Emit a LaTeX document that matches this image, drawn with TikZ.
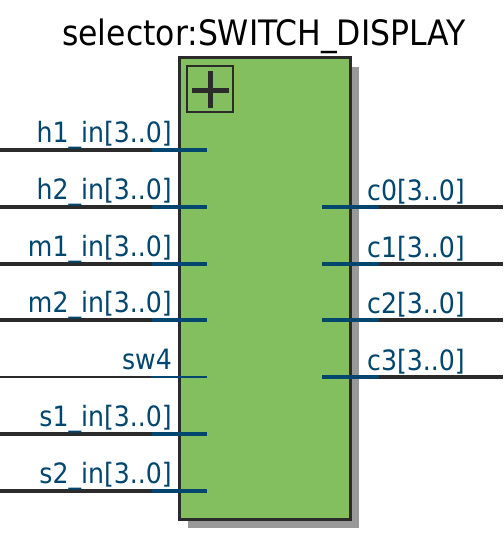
\documentclass[tikz,border=0pt]{standalone}
\usepackage{fontspec}
\setmainfont{DejaVu Sans Condensed}
\usetikzlibrary{positioning}

\definecolor{blockgreen}{HTML}{83BF5F}
\definecolor{edgegray}{HTML}{2B2B2B}
\definecolor{shadowgray}{HTML}{999999}
\definecolor{portblue}{HTML}{00466E}

\begin{document}
\begin{tikzpicture}[x=1pt, y=-1pt, font=\fontsize{28}{31}\selectfont,
    bus/.style={line width=4.5pt},
    wire/.style={line width=2pt},
    portlbl/.style={text=portblue, inner sep=0pt}]
    \useasboundingbox (0,0) rectangle (503,535);
    \node[font=\fontsize{35}{38}\selectfont, inner sep=0pt, anchor=base] (title) at (264,46) {selector:SWITCH\_DISPLAY};
    % block and its shadow
    \fill[shadowgray] (188,67) rectangle (359,528);
    \draw[edgegray, fill=blockgreen, line width=3pt] (179,58) rectangle (350,519);
    \coordinate (sel-nw) at (179,58);
    \draw[edgegray, line width=2pt] (187,66) rectangle (233,112);
    \draw[edgegray, line width=5pt] (192,90) -- (229,90);
    \draw[edgegray, line width=5pt] (210,71) -- (210,108);
    % inputs
    \foreach \y/\name/\label in {150/h1/h1\_in[3..0],207/h2/h2\_in[3..0],264/m1/m1\_in[3..0],
        320/m2/m2\_in[3..0],434/s1/s1\_in[3..0],491/s2/s2\_in[3..0]} {
      \coordinate (\name-a) at (0,\y);
      \coordinate (\name-b) at (152,\y);
      \coordinate (\name-c) at (207,\y);
      \draw[bus, edgegray] (\name-a) -- (\name-b);
      \draw[bus, portblue] (\name-b) -- (\name-c);
      \node[portlbl, anchor=base east] (\name-lbl) at (172,\y-8) {\label};
    }
    \coordinate (sw4-a) at (0,377);
    \coordinate (sw4-b) at (151,377);
    \coordinate (sw4-c) at (207,377);
    \draw[wire, edgegray] (sw4-a) -- (sw4-b);
    \draw[wire, portblue] (sw4-b) -- (sw4-c);
    \node[portlbl, anchor=base east] (sw4-lbl) at (172,369) {sw4};
    % outputs
    \foreach \y/\name in {207/c0,264/c1,320/c2,377/c3} {
      \coordinate (\name-a) at (322,\y);
      \coordinate (\name-b) at (379,\y);
      \coordinate (\name-c) at (503,\y);
      \draw[bus, portblue] (\name-a) -- (\name-b);
      \draw[bus, edgegray] (\name-b) -- (\name-c);
      \node[portlbl, anchor=base west] (\name-lbl) at (367,\y-7) {\name[3..0]};
    }
\end{tikzpicture}
\end{document}
